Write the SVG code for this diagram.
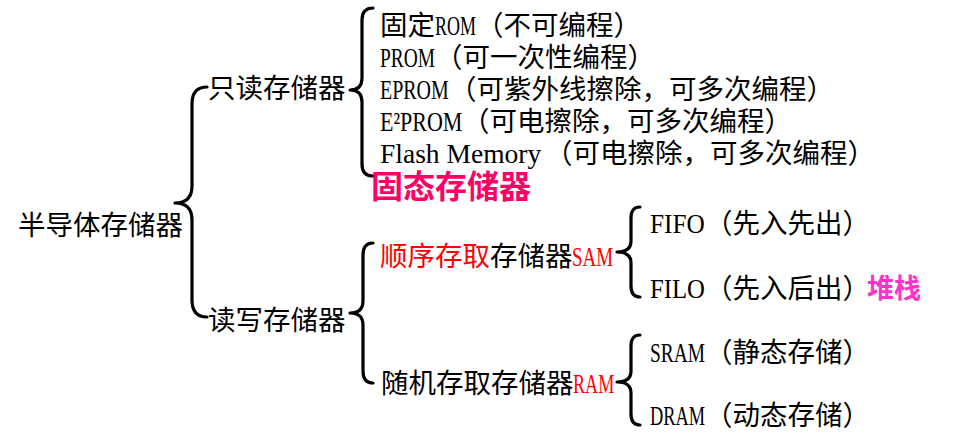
<svg xmlns="http://www.w3.org/2000/svg" width="977" height="447" viewBox="0 0 977 447">
<style>
.t{font-family:"Liberation Serif","Noto Sans CJK SC",serif;font-size:27.5px;fill:#000}
.c{font-family:"Noto Sans CJK SC",sans-serif;font-size:27.5px;fill:#000}
.r{fill:#ff0000}
.b{font-family:"Noto Sans CJK SC",sans-serif;font-weight:700}
.br{fill:none;stroke:#000;stroke-width:3.2;stroke-linecap:round;stroke-linejoin:round}
</style>
<rect width="977" height="447" fill="#fff"/>
<g id="connectors">
<path class="br" d="M207,87 Q192,87 192,104 L192,186 Q192,203 175,203 Q192,203 192,220 L192,300 Q192,317 207,317"/>
<path class="br" d="M373,8 Q362,8 362,20 L362,78 Q362,90 350,90 Q362,90 362,102 L362,164 Q362,176 373,176"/>
<path class="br" d="M373,243 Q363,243 363,255 L363,301 Q363,313 350,313 Q363,313 363,325 L363,371 Q363,383 373,383"/>
<path class="br" d="M640,207 Q631,207 631,218 L631,241 Q631,252 617,252 Q631,252 631,263 L631,286 Q631,297 640,297"/>
<path class="br" d="M640,335 Q631,335 631,346 L631,371 Q631,382 617,382 Q631,382 631,393 L631,414 Q631,425 640,425"/>
</g>
<g id="root"><text class="c" x="18" y="235">半导体存储器</text></g>
<g id="rom"><text class="c" x="208" y="98">只读存储器</text></g>
<g id="rom-fixed">
<text class="c" x="380" y="35">固定</text>
<text class="t" transform="translate(435,35) scale(0.655,1)">ROM</text>
<text class="c" x="476" y="35">（不可编程）</text>
</g>
<g id="prom">
<text class="t" transform="translate(380,67) scale(0.706,1)">PROM</text>
<text class="c" x="435" y="67">（可一次性编程）</text>
</g>
<g id="eprom">
<text class="t" transform="translate(380,99) scale(0.726,1)">EPROM</text>
<text class="c" x="449" y="99">（可紫外线擦除，可多次编程）</text>
</g>
<g id="e2prom">
<text class="t" transform="translate(380,131) scale(0.8,1)">E²PROM</text>
<text class="c" x="462" y="131">（可电擦除，可多次编程）</text>
</g>
<g id="flash">
<text class="t" x="380" y="163">Flash Memory</text>
<text class="c" x="545" y="163">（可电擦除，可多次编程）</text>
</g>
<g id="solid-state"><text class="b" x="371" y="198" font-size="32" fill="#ff0066">固态存储器</text></g>
<g id="rw"><text class="c" x="208" y="330">读写存储器</text></g>
<g id="sam">
<text class="c" x="380" y="266"><tspan class="r">顺序存取</tspan>存储器</text>
<text class="t r" transform="translate(572,266) scale(0.69,1)">SAM</text>
</g>
<g id="ram">
<text class="c" x="381" y="393">随机存取存储器</text>
<text class="t r" transform="translate(573,393) scale(0.66,1)">RAM</text>
</g>
<g id="fifo">
<text class="t" transform="translate(650,233) scale(0.92,1)">FIFO</text>
<text class="c" x="705" y="233">（先入先出）</text>
</g>
<g id="filo">
<text class="t" transform="translate(650,298) scale(0.9,1)">FILO</text>
<text class="c" x="705" y="298">（先入后出）</text>
</g>
<g id="stack"><text class="b" x="867" y="298" font-size="27" fill="#ff33cc">堆栈</text></g>
<g id="sram">
<text class="t" transform="translate(650,362) scale(0.706,1)">SRAM</text>
<text class="c" x="705" y="362">（静态存储）</text>
</g>
<g id="dram">
<text class="t" transform="translate(650,425) scale(0.667,1)">DRAM</text>
<text class="c" x="705" y="425">（动态存储）</text>
</g>
</svg>
